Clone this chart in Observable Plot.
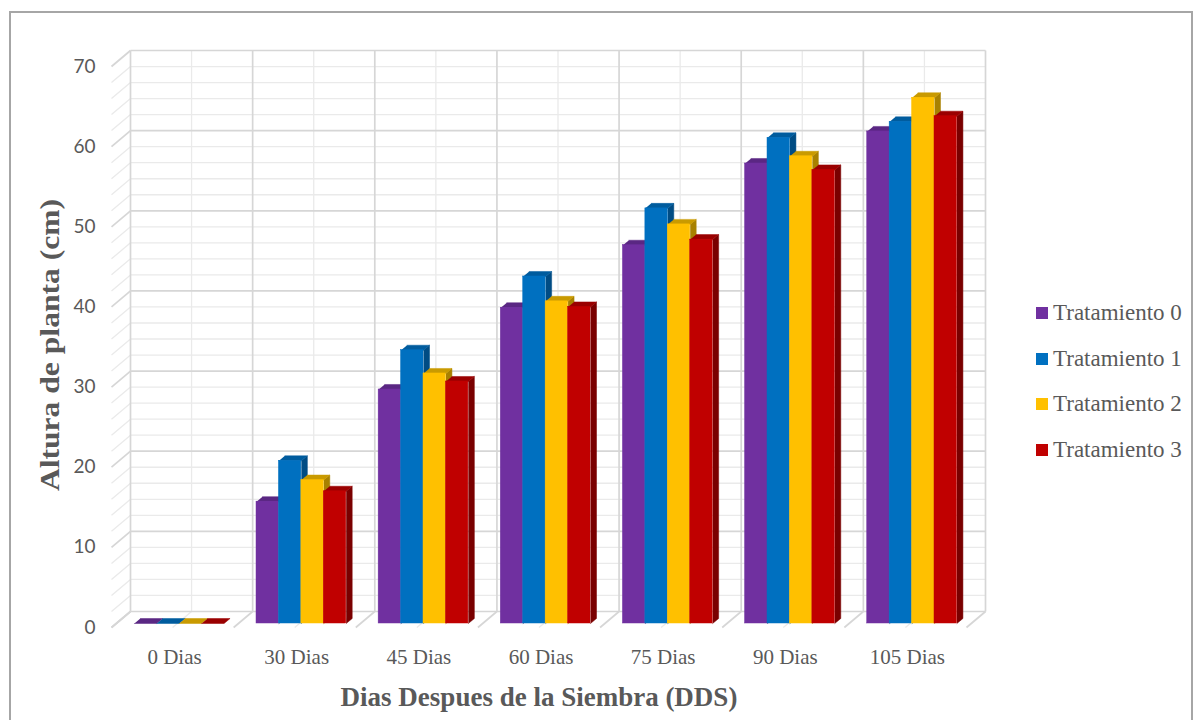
<!DOCTYPE html>
<html>
<head>
<meta charset="utf-8">
<script src="https://cdn.jsdelivr.net/npm/d3@7"></script>
<script src="https://cdn.jsdelivr.net/npm/@observablehq/plot@0.6"></script>
<style>
  body { margin: 0; background: #fff; }
  #wrap { position: relative; width: 1198px; height: 720px; overflow: hidden;
          font-family: "Liberation Serif", "Times New Roman", serif; color: #595959; background: #fff; }
  #frame { position: absolute; left: 9px; top: 11px; width: 1184px; height: 780px;
           border: 2px solid #A6A6A6; box-sizing: border-box; }
  #chart { position: absolute; left: 0; top: 0; }
  #ytitle { position: absolute; left: 50px; top: 345px; white-space: nowrap;
            font-weight: bold; font-size: 27px; line-height: 1;
            transform: translate(-50%, -50%) rotate(-90deg) scaleX(1.17); }
  #xtitle { position: absolute; left: 539px; top: 697px; white-space: nowrap;
            font-weight: bold; font-size: 27px; line-height: 1;
            transform: translate(-50%, -50%); }
  #legend { position: absolute; left: 1036px; top: 290px; }
  .item { height: 45.7px; display: flex; align-items: center; font-size: 23px; }
  .sw { width: 12px; height: 12px; margin-right: 5px; flex: none; }
</style>
</head>
<body>
<div id="wrap">
  <div id="frame"></div>
  <div id="chart"></div>
  <div id="ytitle">Altura de planta (cm)</div>
  <div id="xtitle">Dias Despues de la Siembra (DDS)</div>
  <div id="legend"></div>
</div>
<script>
// Categories, series and tick values
const dias = ["0 Dias", "30 Dias", "45 Dias", "60 Dias", "75 Dias", "90 Dias", "105 Dias"];
const tratamientos = ["Tratamiento 0", "Tratamiento 1", "Tratamiento 2", "Tratamiento 3"];
const tratamiento0 = [0, 15.2, 29.2, 39.4, 47.2, 57.4, 61.4];
const tratamiento1 = [0, 20.3, 34.1, 43.3, 51.8, 60.6, 62.6];
const tratamiento2 = [0, 17.9, 31.2, 40.2, 49.8, 58.3, 65.6];
const tratamiento3 = [0, 16.5, 30.2, 39.5, 47.9, 56.6, 63.3];
const yTicks = [0, 10, 20, 30, 40, 50, 60, 70];
const yGrid = d3.range(0, 71, 2);

// Face colours for each series: front, top, side
const colFront = ["#7030A0", "#0070C0", "#FFC000", "#C00000"];
const colTop   = ["#5A2783", "#005C9E", "#C99A00", "#9A0000"];
const colSide  = ["#4A1F6C", "#004C84", "#A88100", "#7A0000"];

const series = [tratamiento0, tratamiento1, tratamiento2, tratamiento3];

// Plot frame
const W = 1198, H = 720, ML = 111, MR = 232, MT = 66, MB = 93;
const pxX = (W - ML - MR) / dias.length;   // pixels per category
const pxY = (H - MT - MB) / 70;            // pixels per cm

// Depth of the 3-D box (back wall offset) and of the columns, in data units
const BX = 19 / pxX, BY = 16 / pxY;
const SX = 6.65 / pxX, SY = 4 / pxY;       // columns sit slightly behind the front plane
const DX = 6 / pxX, DY = 5 / pxY;          // column depth
const GW = 89.7 / pxX, BW = GW / 4;        // cluster and column widths

// Column geometry
const bars = [];
series.forEach((vals, s) => {
  vals.forEach((v, i) => {
    const xl = i + SX - GW / 2 + s * BW;
    bars.push({s, i, v, xl, xr: xl + BW, y0: SY, y1: v + SY});
  });
});
function sidePoly(b) {
  const id = b.s + "-" + b.i;
  return [
    {id, x: b.xr, y: b.y0}, {id, x: b.xr + DX, y: b.y0 + DY},
    {id, x: b.xr + DX, y: b.y1 + DY}, {id, x: b.xr, y: b.y1}
  ];
}
function topPoly(b) {
  const id = b.s + "-" + b.i;
  return [
    {id, x: b.xl, y: b.y1}, {id, x: b.xr, y: b.y1},
    {id, x: b.xr + DX, y: b.y1 + DY}, {id, x: b.xl + DX, y: b.y1 + DY}
  ];
}

// Grid of the 3-D box
const xBounds = d3.range(dias.length + 1).map(k => k - 0.5);
const xCenters = d3.range(dias.length);
const gridMinor = [], gridMajor = [];
yGrid.forEach(v => {
  const seg = v % 10 === 0 ? gridMajor : gridMinor;
  seg.push({x1: -0.5 + BX, y1: v + BY, x2: dias.length - 0.5 + BX, y2: v + BY});  // back wall
  seg.push({x1: -0.5, y1: v, x2: -0.5 + BX, y2: v + BY});                          // side wall
});
xBounds.forEach(x => {
  gridMajor.push({x1: x + BX, y1: BY, x2: x + BX, y2: 70 + BY});
  gridMajor.push({x1: x, y1: 0, x2: x + BX, y2: BY});
});
xCenters.forEach(x => {
  gridMinor.push({x1: x + BX, y1: BY, x2: x + BX, y2: 70 + BY});
  gridMinor.push({x1: x, y1: 0, x2: x + BX, y2: BY});
});

const marks = [
  Plot.link(gridMinor, {x1: "x1", y1: "y1", x2: "x2", y2: "y2", stroke: "#EAEAEA", strokeWidth: 1.3}),
  Plot.link(gridMajor, {x1: "x1", y1: "y1", x2: "x2", y2: "y2", stroke: "#D6D6D6", strokeWidth: 1.7})
];
// side faces, then top faces, then front faces
for (let s = 0; s < 4; s++) {
  const pts = bars.filter(b => b.s === s && b.v > 0).flatMap(sidePoly);
  marks.push(Plot.line(pts, {x: "x", y: "y", z: "id", fill: colSide[s], stroke: colSide[s], strokeWidth: 0.5}));
}
for (let s = 0; s < 4; s++) {
  const pts = bars.filter(b => b.s === s).flatMap(topPoly);
  marks.push(Plot.line(pts, {x: "x", y: "y", z: "id", fill: colTop[s], stroke: colTop[s], strokeWidth: 0.5}));
}
for (let s = 0; s < 4; s++) {
  marks.push(Plot.rect(bars.filter(b => b.s === s && b.v > 0),
    {x1: "xl", x2: "xr", y1: "y0", y2: "y1", fill: colFront[s], stroke: colFront[s], strokeWidth: 0.5}));
}
// tick labels
marks.push(Plot.text(yTicks, {x: () => -0.5, y: d => d, text: d => String(d), dx: -16, textAnchor: "end",
  fontSize: 19, fontFamily: "Lato, 'Open Sans', sans-serif", fill: "#595959"}));
marks.push(Plot.text(dias, {x: (d, i) => i, y: () => 0, text: d => d, dx: 2, dy: 30,
  fontSize: 21, fontFamily: "'Liberation Serif', 'Times New Roman', serif", fill: "#595959"}));

const chart = Plot.plot({
  width: W, height: H,
  marginLeft: ML, marginRight: MR, marginTop: MT, marginBottom: MB,
  x: {type: "linear", domain: [-0.5, dias.length - 0.5], axis: null},
  y: {type: "linear", domain: [0, 70], axis: null},
  style: {background: "transparent", overflow: "visible"},
  marks
});
document.getElementById("chart").appendChild(chart);

// legend
const legend = document.getElementById("legend");
tratamientos.forEach((t, s) => {
  const row = document.createElement("div");
  row.className = "item";
  const sw = document.createElement("span");
  sw.className = "sw";
  sw.style.background = colFront[s];
  const lab = document.createElement("span");
  lab.textContent = t;
  row.appendChild(sw);
  row.appendChild(lab);
  legend.appendChild(row);
});
</script>
</body>
</html>
